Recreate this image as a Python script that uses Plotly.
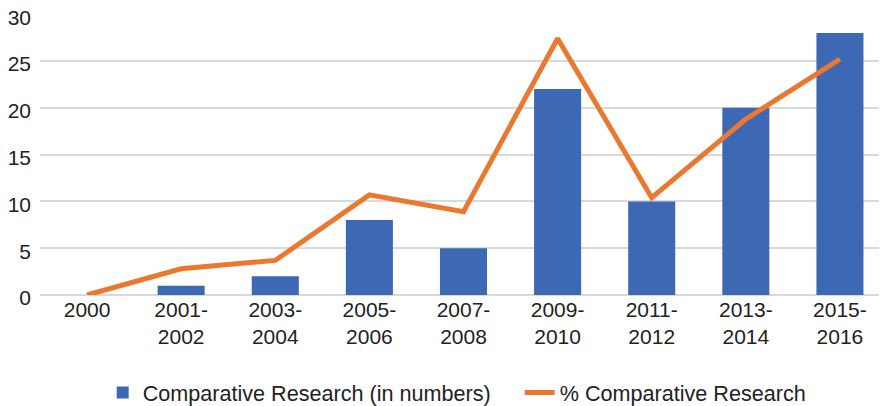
import plotly.graph_objects as go

categories = ["2000", "2001-<br>2002", "2003-<br>2004", "2005-<br>2006", "2007-<br>2008",
              "2009-<br>2010", "2011-<br>2012", "2013-<br>2014", "2015-<br>2016"]
counts = [0, 1, 2, 8, 5, 22, 10, 20, 28]
percent = [0, 2.8, 3.7, 10.7, 8.9, 27.4, 10.4, 18.8, 25.2]
y_ticks = [0, 5, 10, 15, 20, 25, 30]

fig = go.Figure()
fig.add_trace(go.Bar(x=categories, y=counts, name="Comparative Research (in numbers)",
                     marker=dict(color="#3D69B4", line=dict(width=0))))
fig.add_trace(go.Scatter(x=categories, y=percent, mode="lines", name="% Comparative Research",
                         line=dict(color="#EA782F", width=5)))

fig.update_layout(
    width=879, height=398,
    margin=dict(l=32, r=0, t=6, b=111, autoexpand=False),
    paper_bgcolor="white", plot_bgcolor="white",
    bargap=0.5,
    font=dict(family="Liberation Sans, Arial, sans-serif", size=21, color="#222222"),
    showlegend=True,
    legend=dict(orientation="h", x=0.074, xanchor="left", y=-0.349, yanchor="middle",
                font=dict(size=21.6), tracegroupgap=0, entrywidth=372,
                entrywidthmode="pixels"),
    xaxis=dict(showgrid=False, showline=False, ticks="", tickfont=dict(size=21),
               automargin=False),
    yaxis=dict(range=[0, 30.02], tickvals=y_ticks, showgrid=True, gridcolor="#D9D9D9",
               gridwidth=2, zeroline=True, zerolinecolor="#D9D9D9", zerolinewidth=2,
               ticks="", ticklabelstandoff=8, ticklabelshift=3, tickfont=dict(size=21),
               automargin=False, ticklabeloverflow="allow"),
)
fig.write_html("out.html")
